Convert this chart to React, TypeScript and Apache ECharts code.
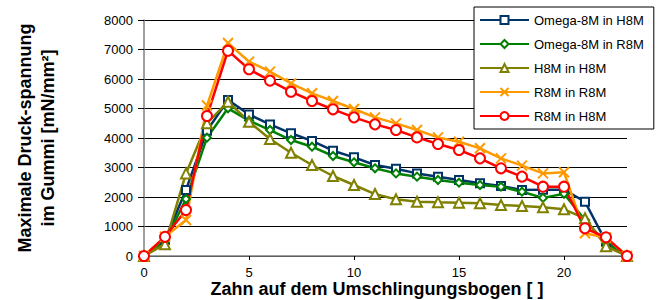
import React, { useEffect, useRef } from "react";
import * as echarts from "echarts";

const xValues = [0, 1, 2, 3, 4, 5, 6, 7, 8, 9, 10, 11, 12, 13, 14, 15, 16, 17, 18, 19, 20, 21, 22, 23];
const omegaH8M = [0, 550, 2240, 4250, 5290, 4800, 4460, 4160, 3900, 3570, 3345, 3085, 2960, 2800, 2690, 2577, 2464, 2373, 2240, 2250, 2250, 1840, 480, 0];
const omegaR8M = [0, 500, 1930, 4010, 5006, 4590, 4270, 3932, 3705, 3390, 3176, 2972, 2800, 2690, 2577, 2485, 2407, 2350, 2180, 1970, 2110, 1220, 430, 0];
const h8mH8M = [0, 400, 2800, 4500, 5230, 4550, 3966, 3500, 3085, 2712, 2407, 2100, 1920, 1840, 1820, 1808, 1786, 1730, 1695, 1650, 1583, 1278, 330, 0];
const r8mR8M = [0, 650, 1220, 5100, 7220, 6590, 6250, 5850, 5515, 5254, 4983, 4700, 4497, 4270, 4020, 3875, 3650, 3310, 3063, 2800, 2840, 770, 620, 0];
const r8mH8M = [0, 650, 1560, 4746, 6960, 6330, 5945, 5570, 5254, 4972, 4700, 4462, 4270, 4020, 3797, 3593, 3310, 2972, 2690, 2350, 2350, 940, 633, 0];
const xTicks = [0, 5, 10, 15, 20];
const seriesNames = ["Omega-8M in H8M", "Omega-8M in R8M", "H8M in H8M", "R8M in R8M", "R8M in H8M"];

const FONT = "'Liberation Sans', Arial, Helvetica, sans-serif";

export default function App() {
  const ref = useRef<HTMLDivElement>(null);
  useEffect(() => {
    if (!ref.current) return;
    const chart = echarts.init(ref.current, null, { renderer: "svg" });
    const mk = (vals: number[]) => xValues.map((x, i) => [x, vals[i]]);
    const mkSeries = (name: string, vals: number[], color: string, symbol: string, size: number, fill: string) => ({
      type: "line",
      name,
      data: mk(vals),
      symbol,
      symbolSize: size,
      lineStyle: { color, width: 2.5 },
      itemStyle: { color: fill, borderColor: color, borderWidth: 2 },
      emphasis: { disabled: true },
    });
    chart.setOption({
      animation: false,
      textStyle: { fontFamily: FONT },
      grid: { left: 144, right: 33, top: 20, bottom: 44, containLabel: false },
      xAxis: {
        type: "value",
        min: 0,
        max: 23,
        interval: 5,
        axisLine: { show: true, lineStyle: { color: "#808080", width: 1.5 } },
        axisTick: { show: true, length: 4, lineStyle: { color: "#000" }, customValues: xTicks },
        axisLabel: { color: "#000", fontSize: 13, margin: 10, fontFamily: FONT, customValues: xTicks },
        splitLine: { show: false },
      },
      yAxis: {
        type: "value",
        min: 0,
        max: 8000,
        interval: 1000,
        axisLine: { show: true, lineStyle: { color: "#808080", width: 1.5 } },
        axisTick: { show: true, length: 6, lineStyle: { color: "#000" } },
        axisLabel: { color: "#000", fontSize: 13, margin: 11, fontFamily: FONT, formatter: (v: number) => String(v) },
        splitLine: { show: true, lineStyle: { color: "#000", width: 1 } },
      },
      legend: {
        show: true,
        orient: "vertical",
        left: 474,
        top: 7,
        width: 179,
        padding: [6, 10, 6, 5],
        itemWidth: 49,
        itemHeight: 10,
        itemGap: 10,
        backgroundColor: "#fff",
        borderColor: "#000",
        borderWidth: 1,
        textStyle: { color: "#000", fontSize: 13, fontFamily: FONT, lineHeight: 14 },
        data: seriesNames,
      },
      graphic: [
        {
          type: "text",
          x: 25,
          y: 138,
          rotation: Math.PI / 2,
          style: { text: "Maximale Druck-spannung", font: `bold 18px ${FONT}`, fill: "#000", align: "center", verticalAlign: "middle" },
        },
        {
          type: "text",
          x: 48,
          y: 138,
          rotation: Math.PI / 2,
          style: { text: "im Gummi [mN/mm²]", font: `bold 18px ${FONT}`, fill: "#000", align: "center", verticalAlign: "middle" },
        },
        {
          type: "text",
          x: 377,
          y: 289,
          style: { text: "Zahn auf dem Umschlingungsbogen [ ]", font: `bold 18px ${FONT}`, fill: "#000", align: "center", verticalAlign: "middle" },
        },
      ],
      series: [
        mkSeries(seriesNames[0], omegaH8M, "#003366", "rect", 8, "#fff"),
        mkSeries(seriesNames[1], omegaR8M, "#008000", "diamond", 8, "#fff"),
        mkSeries(seriesNames[2], h8mH8M, "#808000", "triangle", 10, "#fff"),
        mkSeries(seriesNames[3], r8mR8M, "#FF9900", "path://M0,0L10,10M10,0L0,10", 10, "#FF9900"),
        mkSeries(seriesNames[4], r8mH8M, "#FF0000", "circle", 10, "#fff"),
      ],
    });
    return () => chart.dispose();
  }, []);
  return <div ref={ref} style={{ position: "absolute", left: 0, top: 0, width: 660, height: 300 }} />;
}
